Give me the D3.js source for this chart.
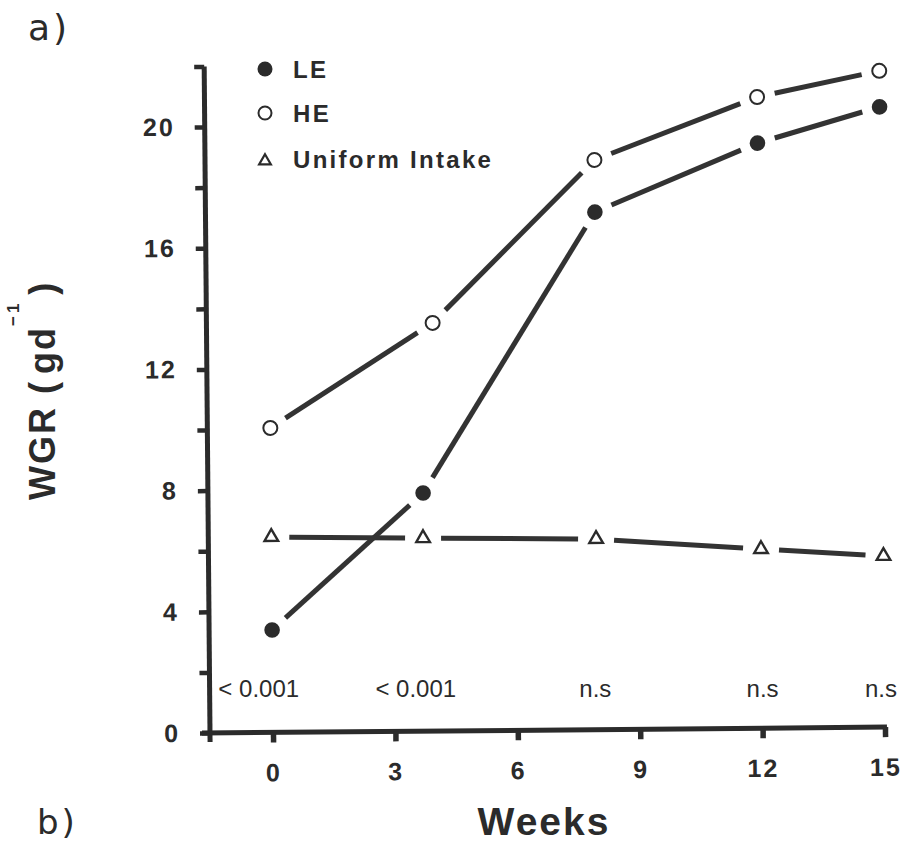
<!DOCTYPE html>
<html>
<head>
<meta charset="utf-8">
<script src="https://cdn.jsdelivr.net/npm/d3@7/dist/d3.min.js"></script>
<style>
  html, body { margin: 0; padding: 0; background: #fff; }
  svg { display: block; }
  .bold { font-family: "Liberation Sans", Arial, Helvetica, sans-serif; font-weight: bold; fill: #2b2b2b; }
</style>
</head>
<body>
<svg id="chart" width="907" height="843"></svg>
<script>
// ---- data ----
const seriesNames = ["LE", "HE", "Uniform Intake"];
const leWeeks  = [0, 3.73, 8.0, 12.0, 15.0];
const leValues = [3.38, 7.86, 17.08, 19.31, 20.47];
const heWeeks  = [0, 4.0, 8.0, 12.0, 15.0];
const heValues = [10.05, 13.47, 18.8, 20.83, 21.66];
const uniWeeks  = [0, 3.72, 7.96, 12.0, 15.0];
const uniValues = [6.45, 6.37, 6.29, 5.91, 5.65];

const xTickValues = [0, 3, 6, 9, 12, 15];
const yTickValues = [0, 2, 4, 6, 8, 10, 12, 14, 16, 18, 20, 22];
const yTickLabels = [0, 4, 8, 12, 16, 20];

const pLabels = ["< 0.001", "< 0.001", "n.s", "n.s", "n.s"];
const pWeeks  = [-0.35, 3.5, 7.9, 12.0, 14.9];
const pValueY = 1.5;

const xTitle = "Weeks";
const panelLabels = ["a)", "b)"];

// ---- layout ----
const ink = "#2b2b2b";
const svg = d3.select("#chart");
const originX = 210, originY = 733, tilt = -0.5;

const plot = svg.append("g")
  .attr("transform", `translate(${originX},${originY}) rotate(${tilt})`);

const x = d3.scaleLinear().domain([0, 15]).range([63, 675]);
const y = d3.scaleLinear().domain([0, 22]).range([0, -666.6]);

// axis lines
plot.append("line")
  .attr("x1", 0).attr("x2", 0).attr("y1", 9).attr("y2", y(22))
  .attr("stroke", ink).attr("stroke-width", 5);
plot.append("line")
  .attr("x1", -8).attr("x2", x(15) + 2).attr("y1", 0).attr("y2", 0)
  .attr("stroke", ink).attr("stroke-width", 5);

// y axis
const yAxis = d3.axisLeft(y)
  .tickValues(yTickValues)
  .tickSize(10)
  .tickPadding(20)
  .tickFormat(d => yTickLabels.includes(d) ? d : "");
const gy = plot.append("g").call(yAxis);
gy.select(".domain").remove();
gy.selectAll(".tick line").attr("stroke", ink).attr("stroke-width", 4.5);
gy.selectAll(".tick text")
  .attr("class", "bold")
  .attr("font-size", 25)
  .attr("letter-spacing", 2)
  .attr("fill", ink);

// x axis
const xAxis = d3.axisBottom(x)
  .tickValues(xTickValues)
  .tickSize(10)
  .tickPadding(21)
  .tickFormat(d => d);
const gx = plot.append("g").call(xAxis);
gx.select(".domain").remove();
gx.selectAll(".tick line").attr("stroke", ink).attr("stroke-width", 5.5);
gx.selectAll(".tick text")
  .attr("class", "bold")
  .attr("font-size", 25)
  .attr("letter-spacing", 2)
  .attr("fill", ink);

// series
function zip(ws, vs) { return ws.map((w, i) => ({ w: w, v: vs[i] })); }
const leData = zip(leWeeks, leValues);
const heData = zip(heWeeks, heValues);
const uniData = zip(uniWeeks, uniValues);

const gap = 18;
function drawSegments(data, width) {
  const segs = [];
  for (let i = 0; i < data.length - 1; i++) {
    const x1 = x(data[i].w), y1 = y(data[i].v);
    const x2 = x(data[i + 1].w), y2 = y(data[i + 1].v);
    const len = Math.hypot(x2 - x1, y2 - y1);
    const ux = (x2 - x1) / len, uy = (y2 - y1) / len;
    segs.push({ x1: x1 + ux * gap, y1: y1 + uy * gap, x2: x2 - ux * gap, y2: y2 - uy * gap });
  }
  plot.append("g").selectAll("line").data(segs).join("line")
    .attr("x1", d => d.x1).attr("y1", d => d.y1)
    .attr("x2", d => d.x2).attr("y2", d => d.y2)
    .attr("stroke", "#333").attr("stroke-width", width);
}
drawSegments(heData, 5);
drawSegments(leData, 5);
drawSegments(uniData, 5);

const tri = d3.symbol().type(d3.symbolTriangle).size(80);

plot.append("g").selectAll("circle").data(leData).join("circle")
  .attr("cx", d => x(d.w)).attr("cy", d => y(d.v)).attr("r", 7.8)
  .attr("fill", ink);
plot.append("g").selectAll("circle").data(heData).join("circle")
  .attr("cx", d => x(d.w)).attr("cy", d => y(d.v)).attr("r", 7)
  .attr("fill", "#fff").attr("stroke", ink).attr("stroke-width", 2);
plot.append("g").selectAll("path").data(uniData).join("path")
  .attr("d", tri)
  .attr("transform", d => `translate(${x(d.w)},${y(d.v)})`)
  .attr("fill", "#fff").attr("stroke", ink).attr("stroke-width", 2.4);

// p-value annotations (level in the picture, so placed without tilt)
const xFlat = d3.scaleLinear().domain([0, 15]).range([originX + 63, originX + 675]);
const yFlat = d3.scaleLinear().domain([0, 22]).range([originY, originY - 666.6]);
svg.append("g").selectAll("text").data(pLabels).join("text")
  .attr("x", (d, i) => xFlat(pWeeks[i]))
  .attr("y", yFlat(pValueY) + 9)
  .attr("text-anchor", "middle")
  .attr("font-family", "'Liberation Sans Narrow', 'Arial Narrow', 'Liberation Sans', sans-serif")
  .attr("font-size", 24)
  .attr("letter-spacing", 0)
  .attr("fill", ink)
  .text(d => d);

// legend
const legendX = 265, legendTextX = 293;
const legendY = [69, 113, 159];
const lg = svg.append("g");
lg.append("circle").attr("cx", legendX).attr("cy", legendY[0]).attr("r", 7.5).attr("fill", ink);
lg.append("circle").attr("cx", legendX).attr("cy", legendY[1]).attr("r", 6.5)
  .attr("fill", "#fff").attr("stroke", ink).attr("stroke-width", 2);
lg.append("path").attr("d", d3.symbol().type(d3.symbolTriangle).size(60)())
  .attr("transform", `translate(${legendX},${legendY[2] + 2})`)
  .attr("fill", "#fff").attr("stroke", ink).attr("stroke-width", 2.2);
lg.selectAll("text").data(seriesNames).join("text")
  .attr("class", "bold")
  .attr("x", legendTextX)
  .attr("y", (d, i) => legendY[i] + 8.5)
  .attr("font-size", 24)
  .attr("letter-spacing", 2.3)
  .text(d => d);

// axis titles
svg.append("text")
  .attr("class", "bold")
  .attr("x", 544).attr("y", 835)
  .attr("text-anchor", "middle")
  .attr("font-size", 39)
  .attr("letter-spacing", 2)
  .text(xTitle);

const yt = svg.append("text")
  .attr("class", "bold")
  .attr("transform", "translate(55,500) rotate(-90)")
  .attr("font-size", 36)
  .attr("letter-spacing", 2);
yt.append("tspan").text("WGR (");
yt.append("tspan").attr("dx", 6).text("gd");
yt.append("tspan").attr("dy", -36).attr("font-size", 17).attr("letter-spacing", 3).text("\u22121");
yt.append("tspan").attr("dy", 36).attr("dx", 6).attr("font-size", 36).text(")");

// panel labels
svg.append("text")
  .attr("x", 28).attr("y", 40)
  .attr("font-family", "'DejaVu Sans', 'Liberation Sans', sans-serif")
  .attr("font-size", 36).attr("letter-spacing", 3).attr("fill", ink)
  .text(panelLabels[0]);
svg.append("text")
  .attr("x", 37).attr("y", 834)
  .attr("font-family", "'DejaVu Sans', 'Liberation Sans', sans-serif")
  .attr("font-size", 34).attr("letter-spacing", 3).attr("fill", ink)
  .text(panelLabels[1]);
</script>
</body>
</html>
